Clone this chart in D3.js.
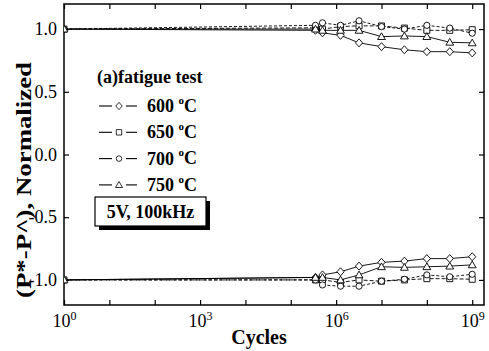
<!DOCTYPE html>
<html>
<head>
<meta charset="utf-8">
<script src="https://cdn.jsdelivr.net/npm/d3@7/dist/d3.min.js"></script>
<style>
  html, body { margin: 0; padding: 0; background: #fff; }
  svg { display: block; }
</style>
</head>
<body>
<script>
// Fatigue cycles (log scale)
const cycles = [1, 3.5e5, 5e5, 1.25e6, 3.2e6, 1e7, 3.2e7, 1e8, 3.2e8, 1e9];

// Normalized switchable polarization, positive branch
const upper600 = [1.0, 0.99, 0.97, 0.95, 0.89, 0.86, 0.835, 0.82, 0.82, 0.81];
const upper650 = [1.0, 1.01, 1.0, 1.02, 1.026, 1.025, 1.008, 0.99, 0.99, 0.995];
const upper700 = [1.0, 1.03, 1.05, 1.03, 1.066, 1.02, 1.0, 1.03, 1.008, 0.967];
const upper750 = [1.0, 1.0, 0.99, 0.99, 0.99, 0.94, 0.945, 0.94, 0.895, 0.89];

// Negative branch
const lower600 = [-1.0, -0.98, -0.96, -0.935, -0.89, -0.86, -0.85, -0.83, -0.83, -0.815];
const lower650 = [-1.0, -1.0, -1.0, -1.02, -1.0, -1.01, -1.0, -0.99, -0.99, -0.995];
const lower700 = [-1.0, -1.0, -1.04, -1.05, -1.05, -1.01, -0.995, -0.96, -0.975, -0.955];
const lower750 = [-1.0, -0.98, -0.98, -1.0, -0.96, -0.895, -0.9, -0.895, -0.89, -0.88];

const legendLabels = ["600", "650", "700", "750"];
const xTickExponents = [0, 1, 2, 3, 4, 5, 6, 7, 8, 9];
const xLabelExponents = [0, 3, 6, 9];
const yTicks = [-1.0, -0.5, 0.0, 0.5, 1.0];
const conditionLabel = "5V, 100kHz";

const W = 489, H = 351;
const plotLeft = 64, plotRight = 484, plotTop = 4, plotBottom = 305;
const serif = "'Liberation Serif', 'DejaVu Serif', serif";

const svg = d3.select("body").append("svg")
  .attr("width", W).attr("height", H)
  .attr("viewBox", `0 0 ${W} ${H}`);

const x = d3.scaleLog().domain([1, Math.pow(10, 9.26)]).range([plotLeft, plotRight]);
const y = d3.scaleLinear().domain([-1.2, 1.2]).range([plotBottom, plotTop]);

svg.append("defs").append("clipPath").attr("id", "plot-clip")
  .append("rect").attr("x", plotLeft).attr("y", plotTop)
  .attr("width", plotRight - plotLeft).attr("height", plotBottom - plotTop);

// ---- axes (ticks pointing inward) ----
const decadeTicks = xTickExponents.map(e => Math.pow(10, e));

const xBottom = d3.axisBottom(x).tickValues(decadeTicks)
  .tickSizeInner(-5).tickSizeOuter(0).tickPadding(9).tickFormat(() => "");
const xTop = d3.axisTop(x).tickValues(decadeTicks)
  .tickSizeInner(-5).tickSizeOuter(0).tickFormat(() => "");
const yLeft = d3.axisLeft(y).tickValues(yTicks)
  .tickSizeInner(-5).tickSizeOuter(0).tickPadding(7).tickFormat(d => d.toFixed(1));
const yRight = d3.axisRight(y).tickValues(yTicks)
  .tickSizeInner(-5).tickSizeOuter(0).tickFormat(() => "");

function styleAxis(g) {
  g.select(".domain").remove();
  g.selectAll(".tick line").attr("stroke", "#000").attr("stroke-width", 1.2);
  g.selectAll("text").attr("font-family", serif).attr("fill", "#000");
}

const gxb = svg.append("g").attr("transform", `translate(0,${plotBottom})`).call(xBottom).call(styleAxis);
svg.append("g").attr("transform", `translate(0,${plotTop})`).call(xTop).call(styleAxis);
const gyl = svg.append("g").attr("transform", `translate(${plotLeft},0)`).call(yLeft).call(styleAxis);
svg.append("g").attr("transform", `translate(${plotRight},0)`).call(yRight).call(styleAxis);

gyl.selectAll("text").attr("font-size", 18);

// decade labels 10^n with superscript exponent
gxb.selectAll(".tick").each(function (d) {
  const e = Math.round(Math.log10(d));
  const t = d3.select(this).select("text");
  if (!xLabelExponents.includes(e)) { t.remove(); return; }
  t.text(null).attr("font-size", 18).attr("text-anchor", "middle").attr("dy", "0.71em");
  t.append("tspan").text("10");
  t.append("tspan").attr("font-size", 12).attr("dy", "-0.55em").text(String(e));
});

// frame
svg.append("rect")
  .attr("x", plotLeft).attr("y", plotTop)
  .attr("width", plotRight - plotLeft).attr("height", plotBottom - plotTop)
  .attr("fill", "none").attr("stroke", "#000").attr("stroke-width", 1.5);

// ---- axis titles ----
svg.append("text")
  .attr("x", 259).attr("y", 344)
  .attr("text-anchor", "middle")
  .attr("font-family", serif).attr("font-weight", "bold").attr("font-size", 20)
  .text("Cycles");

svg.append("text")
  .attr("transform", "translate(31,180) rotate(-90)")
  .attr("text-anchor", "middle")
  .attr("font-family", serif).attr("font-weight", "bold").attr("font-size", 21)
  .attr("textLength", 236).attr("lengthAdjust", "spacingAndGlyphs")
  .text("(P*-P^), Normalized");

// ---- markers ----
const shapes = ["diamond", "square", "circle", "triangle"];
function markerPath(shape) {
  switch (shape) {
    case "diamond": return "M0,-4L3.6,0L0,4L-3.6,0Z";
    case "square": return "M-3,-3H3V3H-3Z";
    case "circle": return d3.symbol(d3.symbolCircle, 30)();
    default: return "M0,-3.8L3.9,2.9L-3.9,2.9Z";
  }
}
const dashes = [null, "4,2", "3,2", null];

const upperSeries = [upper600, upper650, upper700, upper750];
const lowerSeries = [lower600, lower650, lower700, lower750];

const plot = svg.append("g").attr("clip-path", "url(#plot-clip)");
const line = d3.line().x(d => x(d[0])).y(d => y(d[1]));

function drawBranch(seriesList) {
  seriesList.forEach((vals, i) => {
    const pts = cycles.map((c, k) => [c, vals[k]]);
    plot.append("path")
      .attr("d", line(pts))
      .attr("fill", "none").attr("stroke", "#000").attr("stroke-width", 0.9)
      .attr("stroke-dasharray", dashes[i]);
    plot.selectAll(null).data(pts).enter().append("path")
      .attr("d", markerPath(shapes[i]))
      .attr("transform", d => `translate(${x(d[0])},${y(d[1])})`)
      .attr("fill", "#fff").attr("stroke", "#000").attr("stroke-width", 0.9);
  });
}
drawBranch(upperSeries);
drawBranch(lowerSeries);

// ---- legend ----
const legend = svg.append("g");
legend.append("text")
  .attr("x", 97).attr("y", 83)
  .attr("font-family", serif).attr("font-weight", "bold").attr("font-size", 18)
  .text("(a)fatigue test");

legendLabels.forEach((lab, i) => {
  const cy = 106 + i * 26.3;
  [[99, 112], [126, 137]].forEach(([a, b]) => {
    legend.append("line")
      .attr("x1", a).attr("x2", b).attr("y1", cy).attr("y2", cy)
      .attr("stroke", "#000").attr("stroke-width", 1.1);
  });
  legend.append("path")
    .attr("d", markerPath(shapes[i]))
    .attr("transform", `translate(119,${cy}) scale(0.9)`)
    .attr("fill", "#fff").attr("stroke", "#000").attr("stroke-width", 0.9);
  const t = legend.append("text")
    .attr("x", 147).attr("y", cy + 6)
    .attr("font-family", serif).attr("font-weight", "bold").attr("font-size", 18);
  t.append("tspan").text(lab + " ");
  t.append("tspan").attr("font-size", 11).attr("dy", "-0.75em").text("o");
  t.append("tspan").attr("dy", "0.45em").text("C");
});

// condition box with drop shadow
legend.append("rect")
  .attr("x", 99).attr("y", 201).attr("width", 111).attr("height", 29)
  .attr("fill", "#000");
legend.append("rect")
  .attr("x", 95).attr("y", 197).attr("width", 111).attr("height", 29)
  .attr("fill", "#fff").attr("stroke", "#000").attr("stroke-width", 1.2);
legend.append("text")
  .attr("x", 150.5).attr("y", 218)
  .attr("text-anchor", "middle")
  .attr("font-family", serif).attr("font-weight", "bold").attr("font-size", 18)
  .text(conditionLabel);
</script>
</body>
</html>
